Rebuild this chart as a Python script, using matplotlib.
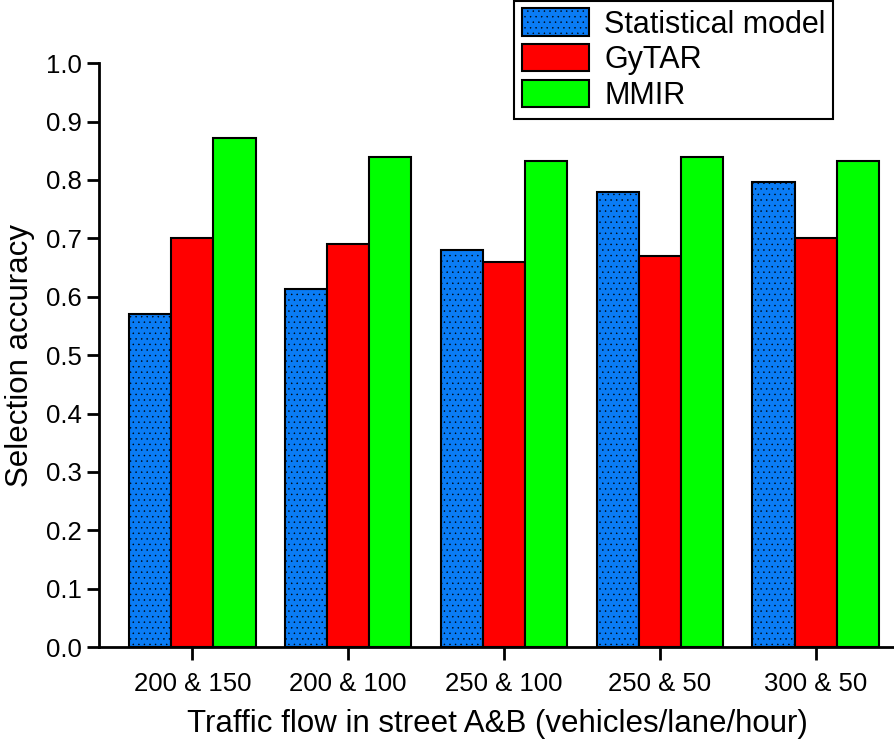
import matplotlib.pyplot as plt
import numpy as np

plt.rcParams['font.family'] = ['Liberation Sans', 'DejaVu Sans']
plt.rcParams['hatch.linewidth'] = 0.3
plt.rcParams['hatch.color'] = '#1c3f73'

categories = ['200 & 150', '200 & 100', '250 & 100', '250 & 50', '300 & 50']
statistical = [0.57, 0.613, 0.68, 0.78, 0.797]
gytar = [0.70, 0.69, 0.66, 0.67, 0.70]
mmir = [0.872, 0.84, 0.833, 0.84, 0.833]

fig = plt.figure(figsize=(8.95, 7.43), dpi=100)
ax = fig.add_axes([0.1106, 0.129, 0.8894, 0.786])

x = np.arange(1, len(categories) + 1)
w = 0.27
ax.bar(x - w, statistical, w, color='#0a7cf5', edgecolor='black', linewidth=1.5,
       hatch='...', label='Statistical model')
ax.bar(x, gytar, w, color='#ff0000', edgecolor='black', linewidth=1.5, label='GyTAR')
ax.bar(x + w, mmir, w, color='#00ff00', edgecolor='black', linewidth=1.5, label='MMIR')

ax.set_xlim(0.4, 5.51)
ax.set_ylim(0, 1.0)
ax.set_yticks(np.arange(0, 1.01, 0.1))
ax.set_yticklabels([f'{v:.1f}' for v in np.arange(0, 1.01, 0.1)])
ax.set_xticks(x)
ax.set_xticklabels(categories)
ax.tick_params(axis='both', direction='out', length=9, width=2, labelsize=18.5)
ax.tick_params(axis='x', pad=9)
for s in ['top', 'right']:
    ax.spines[s].set_visible(False)
for s in ['left', 'bottom']:
    ax.spines[s].set_linewidth(2)

ax.set_xlabel('Traffic flow in street A&B (vehicles/lane/hour)', fontsize=22.5, labelpad=9)
ax.set_ylabel('Selection accuracy', fontsize=22.5, labelpad=8)

leg = fig.legend(loc='upper left', bbox_to_anchor=(514 / 895, 0.999), fontsize=22,
                 frameon=True, fancybox=False, edgecolor='black', framealpha=1,
                 handlelength=2.2, handleheight=1.0, labelspacing=0.15,
                 borderpad=0.25, handletextpad=0.5, borderaxespad=0)
leg.get_frame().set_linewidth(1.5)

fig.savefig('out.png', dpi=100)
